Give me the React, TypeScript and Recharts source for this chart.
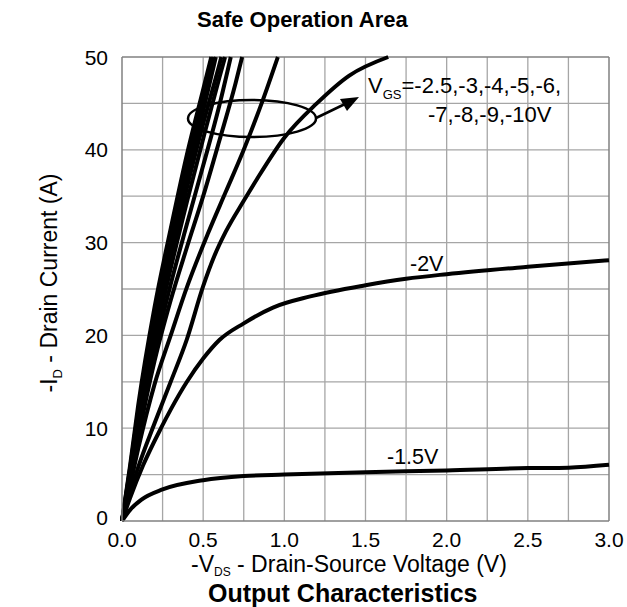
import React from 'react';
import { LineChart, Line, XAxis, YAxis, ReferenceLine, ReferenceArea } from 'recharts';

type Pt = { v: number; i: number };
const mk = (a: number[][]): Pt[] => a.map(([v, i]) => ({ v, i }));

// -V_DS (V), -I_D (A) pairs
const vgs10 = [[0, 0], [0.05, 6], [0.1, 12.5], [0.2, 23], [0.3, 31.5], [0.4, 39.5], [0.5, 46.5], [0.55, 50]];
const vgs9 = [[0, 0], [0.05, 5.7], [0.1, 11.9], [0.2, 22.2], [0.3, 30.6], [0.4, 38.3], [0.5, 45.4], [0.563, 50]];
const vgs8 = [[0, 0], [0.05, 5.4], [0.1, 11.4], [0.2, 21.4], [0.3, 29.6], [0.4, 37.2], [0.5, 44.2], [0.578, 50]];
const vgs7 = [[0, 0], [0.05, 5.1], [0.1, 10.8], [0.2, 20.4], [0.3, 28.4], [0.4, 35.9], [0.5, 42.8], [0.6, 49.2], [0.612, 50]];
const vgs6 = [[0, 0], [0.05, 4.8], [0.1, 10.2], [0.2, 19.4], [0.3, 27.2], [0.4, 34.4], [0.5, 41.2], [0.6, 47.8], [0.635, 50]];
const vgs5 = [[0, 0], [0.05, 4.5], [0.1, 9.5], [0.2, 18.2], [0.3, 25.5], [0.4, 32], [0.5, 38.3], [0.6, 44.8], [0.67, 50]];
const vgs4 = [[0, 0], [0.05, 4.2], [0.1, 8.9], [0.2, 17.2], [0.3, 23.8], [0.4, 29.5], [0.5, 35], [0.6, 41], [0.7, 47.2], [0.74, 50]];
const vgs3 = [[0, 0], [0.05, 3.8], [0.1, 7.8], [0.2, 14.7], [0.3, 20], [0.4, 25.2], [0.53, 31], [0.64, 35.5], [0.75, 40], [0.86, 45], [0.96, 50]];
const vgs25 = [[0, 0], [0.05, 3], [0.1, 5.8], [0.2, 10.5], [0.3, 15], [0.4, 19.6], [0.5, 25.3], [0.57, 28.6], [0.64, 31.2], [0.75, 34.5], [0.83, 36.8], [1.0, 41.3], [1.2, 45], [1.4, 48], [1.64, 50]];
const vgs2 = [[0, 0], [0.05, 2.5], [0.13, 6], [0.24, 10], [0.3, 12], [0.4, 15], [0.5, 17.5], [0.6, 19.5], [0.75, 21.3], [0.93, 23], [1.16, 24.2], [1.5, 25.4], [1.75, 26.1], [2.0, 26.6], [2.5, 27.4], [3.0, 28.1]];
const vgs15 = [[0, 0], [0.05, 1.2], [0.12, 2.3], [0.25, 3.4], [0.5, 4.4], [0.75, 4.85], [1.0, 5.0], [1.5, 5.25], [2.0, 5.45], [2.5, 5.7], [2.75, 5.75], [3.0, 6.05]];

const series = [vgs10, vgs9, vgs8, vgs7, vgs6, vgs5, vgs4, vgs3, vgs25, vgs2, vgs15];

const xTicks = [0, 0.5, 1.0, 1.5, 2.0, 2.5, 3.0];
const yTicks = [0, 10, 20, 30, 40, 50];
const gridX = [0.25, 0.5, 0.75, 1.0, 1.25, 1.5, 1.75, 2.0, 2.25, 2.5, 2.75];
const gridY = [5, 10, 15, 20, 25, 30, 35, 40, 45];

// white label backgrounds (data coords)
const labelBoxes = [
  { x1: 1.507, x2: 2.761, y1: 45.14, y2: 49.35 },
  { x1: 1.876, x2: 2.761, y1: 42.22, y2: 45.14 },
  { x1: 1.747, x2: 1.986, y1: 26.7, y2: 28.73 },
  { x1: 1.617, x2: 1.956, y1: 5.9, y2: 8.21 },
];

const FONT = '"Liberation Sans", Arial, sans-serif';
const GRID = '#a6a6a6';
const BORDER = '#808080';

const YTick = (props: any) => {
  const { x, y, payload } = props;
  return (
    <text x={x} y={payload.value === 0 ? y - 4 : y} textAnchor="end" dominantBaseline="central"
      fontSize={21} fontFamily={FONT} fill="#000">{payload.value}</text>
  );
};

const XTick = (props: any) => {
  const { x, y, payload } = props;
  return (
    <text x={x} y={y} textAnchor="middle" dy="0.72em" fontSize={21} fontFamily={FONT} fill="#000">
      {Number(payload.value).toFixed(1)}
    </text>
  );
};

export default function App() {
  return (
    <div style={{ position: 'absolute', left: 0, top: 0, width: 627, height: 607, background: '#fff' }}>
      <LineChart width={627} height={607} margin={{ top: 57, right: 18, bottom: 0, left: 0 }}>
        <XAxis type="number" dataKey="v" domain={[0, 3]} ticks={xTicks} height={86}
          tickLine={false} axisLine={{ stroke: BORDER, strokeWidth: 1.5 }} tick={<XTick />} tickMargin={5} />
        <YAxis type="number" dataKey="i" domain={[0, 50]} ticks={yTicks} width={122}
          tickLine={false} axisLine={{ stroke: BORDER, strokeWidth: 1.5 }} tick={<YTick />} tickMargin={8} />
        {gridX.map((g) => (
          <ReferenceLine key={'gx' + g} x={g} stroke={GRID} strokeWidth={1.3} />
        ))}
        {gridY.map((g) => (
          <ReferenceLine key={'gy' + g} y={g} stroke={GRID} strokeWidth={1.3} />
        ))}
        <ReferenceLine x={3} stroke={BORDER} strokeWidth={1.5} />
        <ReferenceLine y={50} stroke={BORDER} strokeWidth={1.5} />
        {labelBoxes.map((b, k) => (
          <ReferenceArea key={'lb' + k} x1={b.x1} x2={b.x2} y1={b.y1} y2={b.y2} fill="#fff" fillOpacity={1} stroke="none" />
        ))}
        {series.map((s, k) => (
          <Line key={'s' + k} data={mk(s)} dataKey="i" type="monotone" stroke="#000" strokeWidth={4}
            dot={false} isAnimationActive={false} />
        ))}
      </LineChart>
      <svg width={627} height={607} style={{ position: 'absolute', left: 0, top: 0, pointerEvents: 'none' }}
        fontFamily={FONT}>
        <text x={197} y={27} fontSize={22} fontWeight="bold" fill="#000">Safe Operation Area</text>
        <text x={368} y={93} fontSize={22} fill="#000">
          V<tspan fontSize={13} dy={6}>GS</tspan><tspan dy={-6}>=-2.5,-3,-4,-5,-6,</tspan>
        </text>
        <text x={428} y={122} fontSize={22} fill="#000">-7,-8,-9,-10V</text>
        <text x={410} y={271} fontSize={21.5} fill="#000">-2V</text>
        <text x={387} y={464} fontSize={21.5} fill="#000">-1.5V</text>
        <ellipse cx={252} cy={118.5} rx={64} ry={18.5} fill="none" stroke="#000" strokeWidth={2.5} />
        <line x1={316} y1={118} x2={345} y2={104} stroke="#000" strokeWidth={2.5} />
        <polygon points="359,97 340,99 347,111" fill="#000" />
        <text transform="translate(57,283) rotate(-90)" textAnchor="middle" fontSize={23} fill="#000">
          -I<tspan fontSize={13} dy={5}>D</tspan><tspan dy={-5}> - Drain Current (A)</tspan>
        </text>
        <text x={191} y={572} fontSize={23} fill="#000">
          -V<tspan fontSize={12} dy={4}>DS</tspan><tspan dy={-4}> - Drain-Source Voltage (V)</tspan>
        </text>
        <text x={208} y={602} fontSize={25} fontWeight="bold" fill="#000">Output Characteristics</text>
      </svg>
    </div>
  );
}
